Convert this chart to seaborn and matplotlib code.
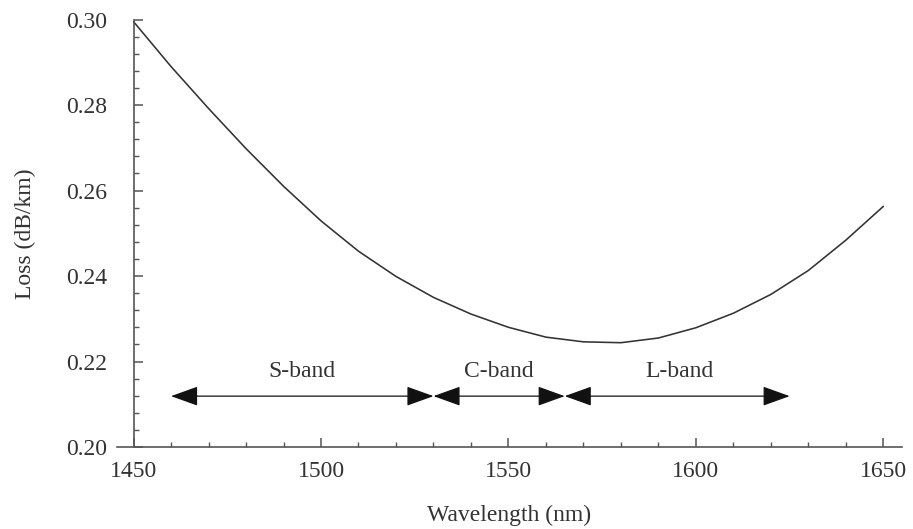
import matplotlib
matplotlib.use("Agg")
import matplotlib.pyplot as plt
from matplotlib.ticker import MultipleLocator
import seaborn as sns
import pandas as pd

# ---- data ----
wavelength = [1450, 1460, 1470, 1480, 1490, 1500, 1510, 1520, 1530, 1540, 1550,
              1560, 1570, 1580, 1590, 1600, 1610, 1620, 1630, 1640, 1650]
loss = [0.2995, 0.2890, 0.2792, 0.2698, 0.2610, 0.2529, 0.2458, 0.2399, 0.2350,
        0.2311, 0.2280, 0.2257, 0.2246, 0.2244, 0.2255, 0.2279, 0.2313, 0.2357,
        0.2413, 0.2484, 0.2563]

band_names = ["S-band", "C-band", "L-band"]
band_start = [1460, 1530, 1565]
band_end = [1530, 1565, 1625]
band_label_x = [1495, 1547.5, 1595.5]
band_arrow_y = 0.2119
band_label_y = 0.2177

x_ticks = [1450, 1500, 1550, 1600, 1650]
y_ticks = [0.20, 0.22, 0.24, 0.26, 0.28, 0.30]

# ---- styling ----
sns.set_theme(style="ticks")
plt.rcParams["font.family"] = ["Liberation Serif", "DejaVu Serif"]
TXT = "#333333"
AX = "#555555"
FS = 17

df = pd.DataFrame({"Wavelength": wavelength, "Loss": loss})

fig = plt.figure(figsize=(9.13, 5.29), dpi=100)
ax = fig.add_axes([0.1282, 0.1550, 0.8595, 0.8081])

sns.lineplot(data=df, x="Wavelength", y="Loss", ax=ax, color="#333333",
             linewidth=1.15)

ax.set_xlim(1445.6, 1654.9)
ax.set_ylim(0.20, 0.30)

ax.spines["top"].set_visible(False)
ax.spines["right"].set_visible(False)
ax.spines["left"].set_position(("data", 1450))
for s in ("left", "bottom"):
    ax.spines[s].set_color(AX)
    ax.spines[s].set_linewidth(1.2)

ax.set_xticks(x_ticks)
ax.set_xticklabels([str(t) for t in x_ticks])
ax.set_yticks(y_ticks)
ax.set_yticklabels([f"{t:.2f}" for t in y_ticks])
ax.xaxis.set_minor_locator(MultipleLocator(10))
ax.yaxis.set_minor_locator(MultipleLocator(0.004))

ax.tick_params(axis="both", which="major", direction="in", length=6.5,
               width=1.1, color=AX, labelsize=FS, labelcolor=TXT)
ax.tick_params(axis="both", which="minor", direction="in", length=3.6,
               width=1.0, color=AX)
ax.tick_params(axis="x", which="major", pad=10)
ax.tick_params(axis="y", which="major", pad=19)

ax.set_xlabel("Wavelength (nm)", fontsize=FS, color=TXT)
ax.set_ylabel("Loss (dB/km)", fontsize=FS, color=TXT)
ax.xaxis.set_label_coords(0.5, -0.135)
ax.yaxis.set_label_coords(-0.103, 0.5)

for name, x0, x1, lx in zip(band_names, band_start, band_end, band_label_x):
    ax.annotate("", xy=(x1, band_arrow_y), xytext=(x0, band_arrow_y),
                arrowprops=dict(arrowstyle="<|-|>,head_length=1.0,head_width=0.36",
                                mutation_scale=17, color="#111111",
                                linewidth=0.9, shrinkA=0, shrinkB=0))
    ax.text(lx, band_label_y, name, ha="center", va="center",
            fontsize=FS, color=TXT)

fig.savefig("out.png", dpi=100)
